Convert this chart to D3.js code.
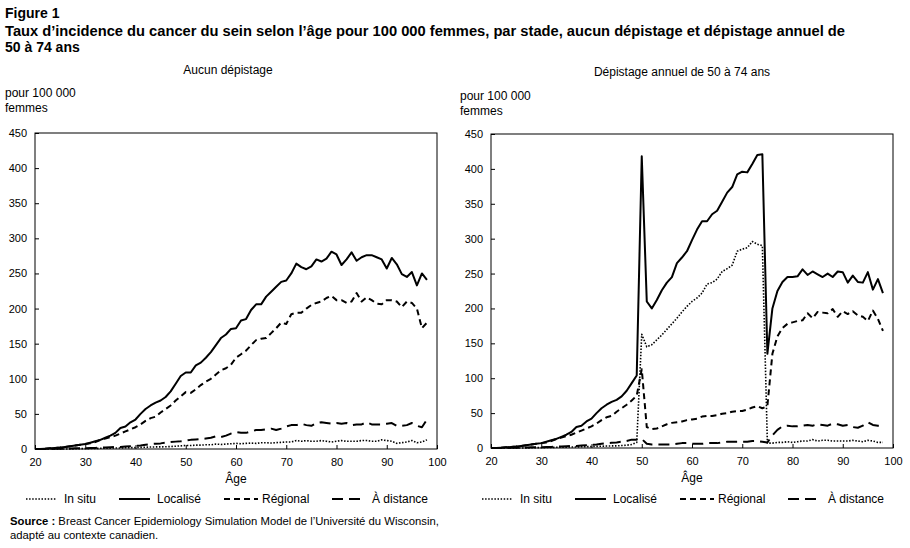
<!DOCTYPE html>
<html>
<head>
<meta charset="utf-8">
<script src="https://cdn.jsdelivr.net/npm/d3@7"></script>
<style>
  html, body { margin: 0; padding: 0; background: #fff; }
  svg { display: block; font-family: "Liberation Sans", Arial, sans-serif; }
</style>
</head>
<body>
<svg id="chart" width="910" height="548"></svg>
<script>
// ---------- data ----------
const ages = d3.range(20, 99); // 20..98

const yTicks = [0, 50, 100, 150, 200, 250, 300, 350, 400, 450];
const xTicks = [20, 30, 40, 50, 60, 70, 80, 90, 100];

const seriesNames = ["In situ", "Localisé", "Régional", "À distance"];

// Aucun dépistage (no screening)
const noInSitu = [0,0,0,0,0,0,0,0,0.3,0.5, 0.5,0.7,0.8,1,1,1.2,1.5,1.5,1.8,2, 2,2.3,2.5,2.8,3,3,3.2,3.5,4,4.5, 5,5,5.5,5.5,6,6,7,6.5,7,7.5, 8,7.5,8,8.5,8,9,9,8.5,9,9.5, 10,10,12,11,12,11,11,12,11,10, 11,12,11,11,11,12,12,11,11,13, 12,11,8,9,10,12,9,10,13];
const noLocal = [0,0,0.5,1,1.5,2,3,4,5,6, 7,9,11,13,16,19,23,30,32,38, 42,50,57,62,66,69,74,82,93,104, 109,109,119,123,130,138,148,158,163,171, 172,183,185,198,206,206,217,224,231,238, 240,250,264,259,256,260,270,267,271,281, 277,262,270,280,268,273,276,276,273,270, 257,272,263,249,245,252,233,250,241];
const noRegional = [0,0,0.5,1,1.5,2,3,4,5,6, 7,8,10,13,15,17,19,22,25,28, 31,35,40,44,46,52,57,62,69,75, 81,80,85,91,96,100,106,112,115,120, 130,135,140,148,155,157,158,165,172,180, 178,192,194,194,200,205,208,210,215,218, 212,212,208,210,222,210,216,212,207,206, 212,212,210,202,210,208,200,172,180];
const noDistant = [0,0,0,0,0.3,0.5,0.5,0.7,1,1, 1,1.5,1.5,2,2,2.5,3,3,3.5,4, 4.5,5,6,7,7.5,8,9,10,10.5,11, 12,13,13.5,14,15,16,18,17,19,22, 24,23,23,25,27,27,28,29,27,29, 32,34,34,36,34,33,37,38,37,36, 37,36,37,34,35,35,38,35,35,35, 36,37,33,33,34,37,33,31,42];

// Dépistage annuel de 50 à 74 ans (annual screening 50-74)
const scInSitu = [0,0,0,0,0,0,0,0,0.3,0.5, 0.5,0.7,0.8,1,1,1.2,1.5,1.5,1.8,2, 2,2.3,2.5,2.8,3,3,3.5,4,5,8, 163,145,148,155,162,170,178,186,195,203, 210,215,222,235,237,242,253,257,262,282, 285,287,296,292,290,7,7,8,8,9, 8,9,10,10,12,10,11,11,10,10, 10,10,11,10,9,11,10,8,8];
const scLocal = [0,0,0.5,1,1.5,2,3,4,5,6, 7,9,11,13,16,19,23,30,32,38, 42,50,57,62,66,69,74,82,93,104, 418,210,200,212,226,237,245,265,273,282, 298,313,325,325,335,340,353,366,374,392, 396,395,407,420,421,135,200,225,238,245, 245,246,256,248,253,249,245,250,245,253, 252,237,247,238,237,252,227,242,222];
const scRegional = [0,0,0.5,1,1.5,2,3,4,5,6, 7,8,10,13,15,17,19,22,25,28, 31,35,40,44,46,52,57,62,68,75, 113,30,27,28,31,34,36,37,38,40, 41,42,45,46,46,47,49,50,52,53, 53,55,58,60,57,60,135,160,172,178, 180,182,183,193,186,195,194,193,199,188, 196,192,196,190,188,182,197,185,168];
const scDistant = [0,0,0,0,0.3,0.5,0.5,0.7,1,1, 1,1.5,1.5,2,2,2.5,3,3,3.5,4, 4.5,5,6,7,7.5,8,9,10,12,12, 13,6,5,5,5,5,5,6,7,7, 6,6,6,7,7,7,8,9,9,9, 9,9,10,10,9,8,18,26,31,32, 31,31,32,33,32,34,33,32,35,34, 32,33,30,29,32,37,33,32,32];

// ---------- drawing ----------
const svg = d3.select("#chart");
const black = "#000";
const styles = [
  { width: 1.6, dash: "1.5,1.6" },   // In situ
  { width: 2, dash: null },          // Localisé
  { width: 2, dash: "6,4" },         // Régional
  { width: 2, dash: "11,6" }         // À distance
];

// Titles
svg.append("text").attr("x", 5).attr("y", 18).attr("font-size", 14).attr("font-weight", "bold").text("Figure 1");
svg.append("text").attr("x", 5).attr("y", 36).attr("font-size", 14).attr("font-weight", "bold")
  .attr("textLength", 840).attr("lengthAdjust", "spacingAndGlyphs")
  .text("Taux d’incidence du cancer du sein selon l’âge pour 100 000 femmes, par stade, aucun dépistage et dépistage annuel de");
svg.append("text").attr("x", 5).attr("y", 52).attr("font-size", 14).attr("font-weight", "bold").text("50 à 74 ans");

function panel(cfg) {
  const x = d3.scaleLinear().domain([20, 100]).range([cfg.left, cfg.right]);
  const y = d3.scaleLinear().domain([0, 450]).range([cfg.bottom, cfg.top]);
  const g = svg.append("g");

  // subtitle
  g.append("text").attr("x", cfg.subX).attr("y", cfg.subY).attr("text-anchor", "middle")
    .attr("font-size", 12).text(cfg.subtitle);
  // unit label
  g.append("text").attr("x", cfg.unitX).attr("y", cfg.unitY).attr("font-size", 12).text("pour 100 000");
  g.append("text").attr("x", cfg.unitX).attr("y", cfg.unitY + 15).attr("font-size", 12).text("femmes");

  // frame
  g.append("rect").attr("x", cfg.left).attr("y", cfg.top)
    .attr("width", cfg.right - cfg.left).attr("height", cfg.bottom - cfg.top)
    .attr("fill", "none").attr("stroke", black).attr("stroke-width", 1);

  // axes (inside ticks)
  const yAxis = d3.axisLeft(y).tickValues(yTicks).tickSize(-4).tickPadding(8).tickFormat(d3.format("d"));
  const ya = g.append("g").attr("transform", `translate(${cfg.left},0)`).call(yAxis);
  ya.select(".domain").remove();
  ya.selectAll("text").attr("font-size", 11).attr("font-family", "Liberation Sans, Arial, sans-serif").attr("fill", black);
  ya.selectAll("line").attr("stroke", black);

  const xAxis = d3.axisBottom(x).tickValues(xTicks).tickSize(-4).tickPadding(9).tickFormat(d3.format("d"));
  const xa = g.append("g").attr("transform", `translate(0,${cfg.bottom})`).call(xAxis);
  xa.select(".domain").remove();
  xa.selectAll("text").attr("font-size", 11).attr("font-family", "Liberation Sans, Arial, sans-serif").attr("fill", black);
  xa.selectAll("line").attr("stroke", black);

  g.append("text").attr("x", (cfg.left + cfg.right) / 2).attr("y", cfg.bottom + 34)
    .attr("text-anchor", "middle").attr("font-size", 12).text("Âge");

  // lines
  const line = d3.line().x((d, i) => x(ages[i])).y(d => y(d));
  cfg.series.forEach((s, k) => {
    g.append("path").datum(s).attr("d", line)
      .attr("fill", "none").attr("stroke", black)
      .attr("stroke-width", styles[k].width)
      .attr("stroke-dasharray", styles[k].dash)
      .attr("stroke-linejoin", "round");
  });

  // legend
  const legOffsets = [[-9, 22, 29], [84, 115, 122], [189, 223, 227], [297, 328, 337]];
  seriesNames.forEach((name, k) => {
    const [x1, x2, tx] = legOffsets[k];
    g.append("line").attr("x1", cfg.left + x1).attr("x2", cfg.left + x2)
      .attr("y1", cfg.legY).attr("y2", cfg.legY)
      .attr("stroke", black).attr("stroke-width", styles[k].width)
      .attr("stroke-dasharray", styles[k].dash);
    g.append("text").attr("x", cfg.left + tx).attr("y", cfg.legY + 4)
      .attr("font-size", 12).text(name);
  });
}

panel({ left: 35, right: 437, top: 133, bottom: 449,
  subtitle: "Aucun dépistage", subX: 228, subY: 74, unitX: 5, unitY: 97, legY: 499,
  series: [noInSitu, noLocal, noRegional, noDistant] });
panel({ left: 491, right: 893, top: 134, bottom: 448,
  subtitle: "Dépistage annuel de 50 à 74 ans", subX: 682, subY: 76, unitX: 460, unitY: 100, legY: 499,
  series: [scInSitu, scLocal, scRegional, scDistant] });

// source
const src = svg.append("text").attr("x", 10).attr("y", 525).attr("font-size", 11.3);
src.append("tspan").attr("font-weight", "bold").text("Source : ");
src.append("tspan").text("Breast Cancer Epidemiology Simulation Model de l’Université du Wisconsin,");
svg.append("text").attr("x", 10).attr("y", 539).attr("font-size", 11.3).text("adapté au contexte canadien.");
</script>
</body>
</html>
